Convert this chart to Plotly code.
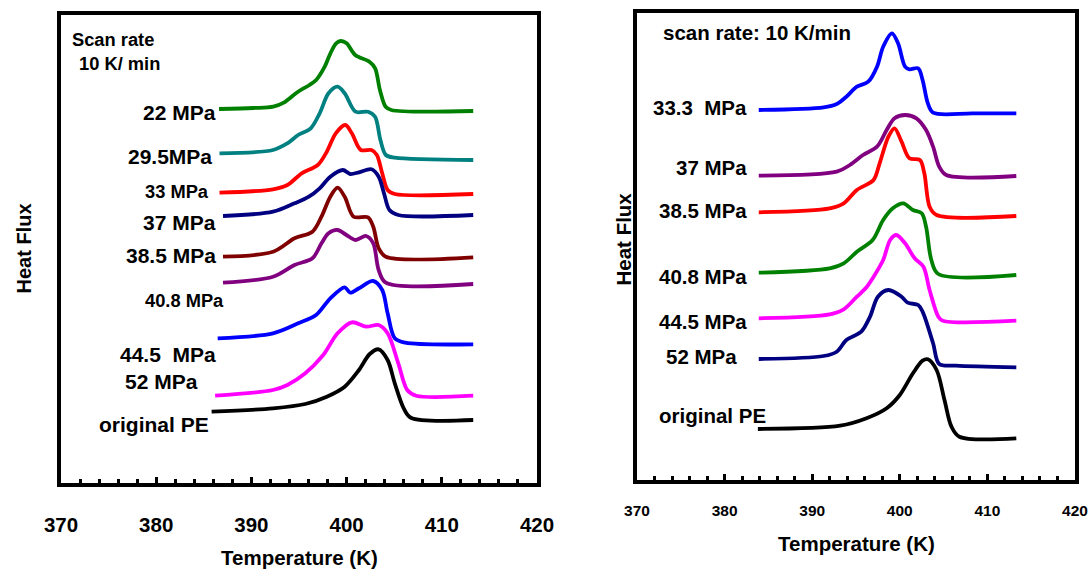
import plotly.graph_objects as go

# ---------------- Left panel data (Temperature K, Heat flux a.u.) ----------------
L_22_T = [386.6, 390.2, 392.3, 393.4, 394.9, 396.1, 396.8, 397.7, 398.3, 398.9, 399.4, 400.0, 400.9, 402.4, 403.0, 403.5, 404.1, 404.7, 413.3]
L_22_H = [375, 376, 377.3, 381.3, 392.3, 399, 404, 417.3, 430.7, 440.7, 443, 440.7, 429, 422.3, 415.7, 394, 377.3, 374, 373]

L_295_T = [386.65, 392.27, 393.78, 394.91, 396.23, 397.17, 398.10, 399.05, 399.80, 400.93, 402.25, 402.99, 403.55, 404.12, 405.06, 413.3]
L_295_H = [330.7, 334, 340.7, 349, 355.7, 370.7, 390.7, 397.3, 390.7, 372.3, 372.3, 367.3, 344, 329, 326.3, 324]

L_33_T = [386.65, 392.27, 393.78, 395.28, 396.97, 397.92, 398.86, 399.87, 400.55, 401.49, 402.62, 403.18, 403.74, 404.31, 405.06, 413.3]
L_33_H = [291.3, 294.7, 299, 310.7, 319, 332.3, 350.7, 359, 350.7, 334, 334, 329, 310.7, 294, 290, 290]

L_37_T = [387.02, 392.27, 394.53, 396.04, 397.17, 398.29, 399.61, 400.37, 401.30, 402.62, 403.37, 403.93, 404.50, 405.43, 413.3]
L_37_H = [268, 272.3, 280.7, 287.3, 295.7, 307.3, 314, 310, 311.7, 314.7, 307.3, 290.7, 274, 269, 269]

L_385_T = [387.02, 392.27, 394.53, 396.41, 397.36, 398.29, 399.05, 399.80, 400.74, 402.25, 402.80, 403.37, 404.12, 413.3]
L_385_H = [227.3, 232.3, 245.7, 252.3, 267.3, 287.3, 296.3, 287.3, 267.3, 266.7, 257.3, 235.7, 227.3, 226.7]

L_408_T = [387.02, 392.27, 394.53, 396.41, 397.36, 398.10, 399.05, 399.98, 400.93, 402.06, 402.80, 403.37, 404.12, 413.3]
L_408_H = [201.3, 207.3, 219, 225.7, 240.7, 250.7, 254, 249, 244, 248, 240.7, 214, 201.3, 200]

L_445_T = [386.46, 392.27, 394.91, 396.79, 398.29, 399.80, 400.37, 401.30, 402.80, 403.74, 404.31, 405.06, 406.17, 413.3]
L_445_H = [145.7, 150.7, 160.7, 169, 185.7, 196.7, 191.3, 195.7, 203, 194, 170.7, 145.7, 141.3, 139.7]

L_52_T = [386.19, 392.27, 393.78, 395.66, 397.54, 399.05, 400.55, 402.06, 403.37, 404.31, 405.43, 406.37, 407.31, 413.3]
L_52_H = [88.3, 94, 99, 110.7, 129, 150.7, 161.7, 157.3, 159, 150.7, 120.7, 94, 88.3, 88.3]

L_PE_T = [385.82, 392.27, 395.66, 397.92, 399.80, 401.30, 402.43, 403.37, 404.31, 405.06, 406.00, 406.75, 413.3]
L_PE_H = [72.3, 75.7, 80, 87.3, 97.3, 114, 130, 134.7, 124, 100.7, 75.7, 66.3, 64]

# ---------------- Right panel data ----------------
R_333_T = [383.9, 391.3, 392.8, 393.9, 395.1, 396.4, 397.4, 398.1, 399.1, 399.8, 400.6, 401.1, 402.1, 402.6, 403.2, 403.8, 408.3, 413.3]
R_333_H = [371, 373.7, 377, 384.3, 394.3, 399.3, 414.3, 434.3, 447.7, 437.7, 414.3, 411.7, 412.7, 401, 377.7, 368.3, 367.7, 367.7]

R_37_T = [383.9, 392.8, 394.3, 395.8, 397.4, 398.5, 399.4, 400.6, 401.9, 403.0, 403.8, 404.5, 405.3, 413.3]
R_37_H = [305.3, 309.3, 316, 326, 334.3, 351, 362.7, 366, 362.7, 351, 334.3, 314.3, 306, 305]

R_385_T = [383.9, 392.0, 393.6, 395.1, 397.0, 397.7, 398.7, 399.4, 400.2, 401.1, 402.3, 402.8, 403.4, 404.2, 413.3]
R_385_H = [268.7, 272.7, 277.7, 291, 301, 317.7, 344.3, 352.7, 339.3, 322.7, 321, 307.7, 274.3, 266, 265]

R_408_T = [383.9, 392.0, 393.6, 395.1, 396.9, 398.1, 399.2, 400.4, 401.5, 402.5, 403.0, 403.6, 404.4, 413.3]
R_408_H = [208.3, 212.7, 217.7, 229.3, 241, 261, 272.7, 277.7, 271, 267.7, 254.3, 221, 207, 206]

R_445_T = [383.9, 392.0, 393.6, 395.1, 396.2, 396.9, 398.1, 398.9, 399.6, 400.6, 401.7, 402.7, 403.4, 404.4, 404.9, 413.3]
R_445_H = [162.7, 166.7, 171.7, 184.3, 193.7, 202.7, 221, 241, 246, 237.7, 222.7, 214.3, 191, 164.3, 160.3, 160.3]

R_52_T = [383.9, 391.3, 392.8, 393.9, 395.6, 396.6, 397.5, 398.7, 400.2, 400.9, 402.1, 402.6, 403.8, 404.5, 406.4, 413.3]
R_52_H = [122, 125, 129.3, 141, 149.3, 164.3, 184.3, 191, 184.3, 178.3, 176, 169.3, 137.7, 117, 115.3, 113.7]

R_PE_T = [383.8, 393.2, 396.2, 398.5, 400.0, 401.5, 402.6, 403.2, 404.2, 405.1, 405.9, 406.8, 413.3]
R_PE_H = [52, 55.3, 62.7, 72.7, 86, 107.7, 120.3, 121.7, 111, 81, 54.3, 44.3, 42.7]

FONT = "Arial, Liberation Sans, sans-serif"

left_series = [
    ("22 MPa", L_22_T, L_22_H, "#008000"),
    ("29.5MPa", L_295_T, L_295_H, "#008080"),
    ("33 MPa", L_33_T, L_33_H, "#FF0000"),
    ("37 MPa", L_37_T, L_37_H, "#000080"),
    ("38.5 MPa", L_385_T, L_385_H, "#800000"),
    ("40.8 MPa", L_408_T, L_408_H, "#800080"),
    ("44.5 MPa", L_445_T, L_445_H, "#0000FF"),
    ("52 MPa", L_52_T, L_52_H, "#FF00FF"),
    ("original PE", L_PE_T, L_PE_H, "#000000"),
]
right_series = [
    ("33.3 MPa", R_333_T, R_333_H, "#0000FF"),
    ("37 MPa", R_37_T, R_37_H, "#800080"),
    ("38.5 MPa", R_385_T, R_385_H, "#FF0000"),
    ("40.8 MPa", R_408_T, R_408_H, "#008000"),
    ("44.5 MPa", R_445_T, R_445_H, "#FF00FF"),
    ("52 MPa", R_52_T, R_52_H, "#000080"),
    ("original PE", R_PE_T, R_PE_H, "#000000"),
]

fig = go.Figure()
for name, t, h, c in left_series:
    fig.add_trace(go.Scatter(x=t, y=h, mode="lines", name=name, xaxis="x", yaxis="y",
                             line=dict(color=c, width=3.8, shape="spline", smoothing=0.9)))
for name, t, h, c in right_series:
    fig.add_trace(go.Scatter(x=t, y=h, mode="lines", name=name, xaxis="x2", yaxis="y2",
                             line=dict(color=c, width=3.8, shape="spline", smoothing=0.9)))

# label annotations (text, x, y, font size, anchor)
left_labels = [
    ("22 MPa", 386.44, 371, 21, "right"),
    ("29.5MPa", 386.08, 327, 21, "right"),
    ("33 MPa", 385.71, 292, 18.3, "right"),
    ("37 MPa", 386.44, 261, 21, "right"),
    ("38.5 MPa", 386.44, 228, 21, "right"),
    ("40.8 MPa", 387.38, 183.3, 18.3, "right"),
    ("44.5\u00a0 MPa", 386.53, 130, 21, "right"),
    ("52 MPa", 384.58, 102.3, 21, "right"),
    ("original PE", 385.71, 60, 21, "right"),
    ("Scan rate", 370.93, 444, 18.3, "left"),
    ("\u00a010 K/ min", 371.2, 420, 18.3, "left"),
]
right_labels = [
    ("scan rate: 10 K/min", 372.73, 448, 20.5, "left"),
    ("33.3\u00a0 MPa", 382.73, 373, 20.5, "right"),
    ("37 MPa", 382.73, 313, 20.5, "right"),
    ("38.5 MPa", 382.73, 270, 20.5, "right"),
    ("40.8 MPa", 382.73, 205, 20.5, "right"),
    ("44.5 MPa", 382.73, 159.3, 20.5, "right"),
    ("52 MPa", 381.59, 124.3, 20.5, "right"),
    ("original PE", 385.0, 66, 20.5, "right"),
]
annotations = []
for txt, x, y, s, anc in left_labels:
    annotations.append(dict(text=txt, x=x, y=y, xref="x", yref="y", xanchor=anc, yanchor="middle",
                            showarrow=False, font=dict(family=FONT, size=s, color="black", weight="bold")))
for txt, x, y, s, anc in right_labels:
    annotations.append(dict(text=txt, x=x, y=y, xref="x2", yref="y2", xanchor=anc, yanchor="middle",
                            showarrow=False, font=dict(family=FONT, size=s, color="black", weight="bold")))

# the page body margin is removed by a post script, so the figure fills the window
W, H, OFF = 1090, 570, 0

def fx(px):
    return (px - OFF) / W

def fy(py):
    return 1 - (py - OFF) / H

# axis titles placed as paper annotations (centre x, centre y, angle)
axis_titles = [
    ("Temperature (K)", 299, 557, 0, 20.5),
    ("Temperature (K)", 856, 543, 0, 20.5),
    ("Heat Flux", 23.5, 249, -90, 20),
    ("Heat Flux", 623.5, 239, -90, 20.5),
]
for txt, cx, cy, ang, s in axis_titles:
    annotations.append(dict(text=txt, x=fx(cx), y=fy(cy), xref="paper", yref="paper",
                            xanchor="center", yanchor="middle", textangle=ang, showarrow=False,
                            font=dict(family=FONT, size=s, color="black", weight="bold")))

def xax(dom, tfs, standoff):
    return dict(domain=dom, range=[370, 420], showline=True, linewidth=4, linecolor="black", mirror=True,
                ticks="inside", dtick=10, tick0=370, ticklen=6, tickwidth=3, tickcolor="black",
                minor=dict(ticks="inside", dtick=2, ticklen=4, tickwidth=3, tickcolor="black"),
                showgrid=False, zeroline=False, automargin=False, ticklabeloverflow="allow",
                tickfont=dict(family=FONT, size=tfs, color="black", weight="bold"),
                ticklabelstandoff=standoff)

def yax(dom, rng, anchor):
    return dict(domain=dom, range=rng, anchor=anchor, showline=True, linewidth=4, linecolor="black", mirror=True,
                ticks="", showticklabels=False, showgrid=False, zeroline=False, automargin=False)

fig.update_layout(
    width=W, height=H, margin=dict(l=0, r=0, t=0, b=0, autoexpand=False),
    paper_bgcolor="white", plot_bgcolor="white", showlegend=False,
    xaxis=dict(**xax([fx(61), fx(537)], 20.5, 20), anchor="y"),
    yaxis=yax([fy(483), fy(15)], [1, 469], "x"),
    xaxis2=dict(**xax([fx(637), fx(1075)], 15.5, 13), anchor="y2"),
    yaxis2=yax([fy(480), fy(13)], [1, 468], "x2"),
    annotations=annotations,
)

fig.write_html("out.html", config={"displayModeBar": False},
               post_script="document.body.style.margin='0px';")
